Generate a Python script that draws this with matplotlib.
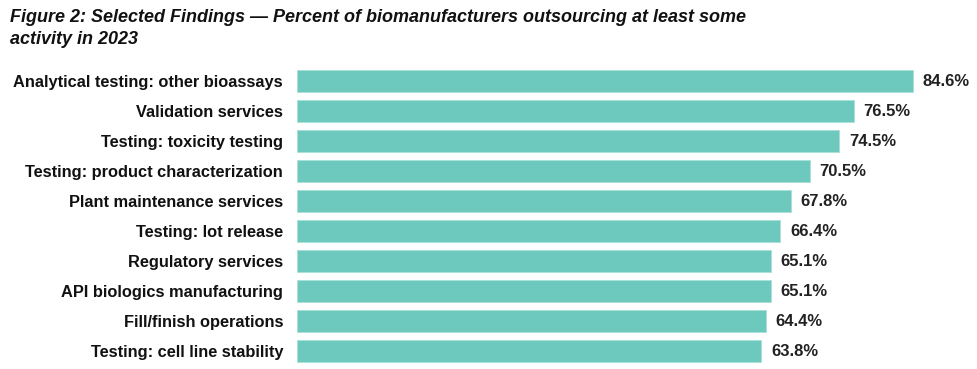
import matplotlib.pyplot as plt

# data
activities = [
    "Analytical testing: other bioassays",
    "Validation services",
    "Testing: toxicity testing",
    "Testing: product characterization",
    "Plant maintenance services",
    "Testing: lot release",
    "Regulatory services",
    "API biologics manufacturing",
    "Fill/finish operations",
    "Testing: cell line stability",
]
percents = [84.6, 76.5, 74.5, 70.5, 67.8, 66.4, 65.1, 65.1, 64.4, 63.8]

plt.rcParams['font.family'] = ['Liberation Sans', 'DejaVu Sans']

fig = plt.figure(figsize=(9.77, 3.69), dpi=100)
ax = fig.add_axes([297 / 977, 3 / 369, 680 / 977, 300 / 369])

y = list(range(len(activities)))
ax.barh(y, percents, height=0.75, color="#6dc8bd", edgecolor="#a8e0d8", linewidth=0.6)

for yi, v in zip(y, percents):
    ax.text(v + 1.3, yi, f"{v}%", va="center", ha="left",
            fontsize=12, fontweight="bold", color="#222222")

ax.set_xlim(0, 93.4)
ax.set_ylim(len(activities) - 0.5, -0.5)
ax.set_yticks(y)
ax.set_yticklabels(activities, fontsize=11.8, fontweight="bold", color="#111111")
ax.tick_params(axis="y", length=0, pad=10)
ax.set_xticks([])
for s in ax.spines.values():
    s.set_visible(False)

fig.text(10 / 977, 1 - 17 / 369,
         "Figure 2: Selected Findings \u2014 Percent of biomanufacturers outsourcing at least some",
         fontsize=13, fontweight="bold", fontstyle="italic", va="center", ha="left", color="#111111")
fig.text(10 / 977, 1 - 40 / 369, "activity in 2023",
         fontsize=13, fontweight="bold", fontstyle="italic", va="center", ha="left", color="#111111")

fig.savefig("out.png", dpi=100)
